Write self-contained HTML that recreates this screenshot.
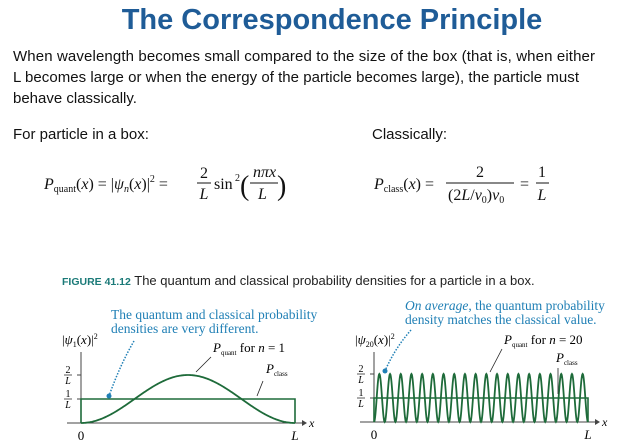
<!DOCTYPE html>
<html><head><meta charset="utf-8"><style>
html,body{margin:0;padding:0;background:#fff;width:640px;height:442px;overflow:hidden}
svg{display:block}
.b{font-family:"Liberation Sans",sans-serif;font-size:15px;fill:#111}
.m{font-family:"Liberation Serif",serif;fill:#111}
.c{font-family:"Liberation Serif",serif;fill:#1f7fb5;font-size:13.5px}
</style></head><body>
<svg id="s" width="640" height="442">
<text x="332" y="29" text-anchor="middle" font-family="Liberation Sans,sans-serif" font-weight="bold" font-size="29" fill="#1f5c97">The Correspondence Principle</text>
<g class="b">
<text x="13" y="61" textLength="582">When wavelength becomes small compared to the size of the box (that is, when either</text>
<text x="13" y="82" textLength="566">L becomes large or when the energy of the particle becomes large), the particle must</text>
<text x="13" y="103">behave classically.</text>
<text x="13" y="139">For particle in a box:</text>
<text x="372" y="139">Classically:</text>
</g>
<g class="m" font-size="16">
<text x="44" y="189" font-style="italic">P<tspan font-size="10" font-style="normal" dy="3">quant</tspan><tspan dy="-3" font-style="normal">(</tspan>x<tspan font-style="normal">)  =  |</tspan>ψ<tspan font-size="10" dy="3">n</tspan><tspan dy="-3" font-style="normal">(</tspan>x<tspan font-style="normal">)|</tspan><tspan font-size="10" dy="-7" font-style="normal">2</tspan><tspan dy="7" font-style="normal"> = </tspan></text>
<text x="204" y="178" text-anchor="middle">2</text><line x1="197" y1="183" x2="211" y2="183" stroke="#111"/><text x="204" y="199" text-anchor="middle" font-style="italic">L</text>
<text x="214" y="189">sin</text><text x="235" y="181" font-size="10">2</text>
<text x="240" y="195" font-size="28" font-weight="100">(</text>
<text x="253" y="177" font-style="italic">nπx</text><line x1="250" y1="183" x2="278" y2="183" stroke="#111"/><text x="258" y="199" font-style="italic">L</text>
<text x="277" y="195" font-size="28" font-weight="100">)</text>
</g>
<g class="m" font-size="16">
<text x="374" y="189" font-style="italic">P<tspan font-size="10" font-style="normal" dy="3">class</tspan><tspan dy="-3" font-style="normal">(</tspan>x<tspan font-style="normal">)  = </tspan></text>
<text x="480" y="177" text-anchor="middle">2</text><line x1="446" y1="183" x2="514" y2="183" stroke="#111"/>
<text x="448" y="200">(2<tspan font-style="italic">L</tspan>/<tspan font-style="italic">v</tspan><tspan font-size="10" dy="3">0</tspan><tspan dy="-3">)</tspan><tspan font-style="italic">v</tspan><tspan font-size="10" dy="3">0</tspan></text>
<text x="520" y="189">=</text>
<text x="542" y="177" text-anchor="middle">1</text><line x1="536" y1="183" x2="549" y2="183" stroke="#111"/><text x="542" y="200" text-anchor="middle" font-style="italic">L</text>
</g>
<text x="62" y="285" font-family="Liberation Sans,sans-serif" font-size="13" fill="#222"><tspan font-weight="bold" fill="#1b7a78" font-size="10.5">FIGURE 41.12</tspan>  The quantum and classical probability densities for a particle in a box.</text>
<g id="charts"></g>
</svg>
<script>
const nValues=[1,20];
const classValue=1; // in units of 1/L
const peakValue=2;  // in units of 1/L
const tickValues=[1,2];
const tickLabels=["1","2"];
const panels=[
 {x0:81,x1:295,y0:423,yTop:352,ylab:"1",notes:["The quantum and classical probability","densities are very different."],nx:111,ny:319,arrow:"M134,341 Q120,365 109,396",qx:213,qy:352,ql:"M211,357 L196,372",cx:266,cy:373,cl:"M263,381 L257,396"},
 {x0:374,x1:588,y0:422,yTop:352,ylab:"20",notes:["On average, the quantum probability","density matches the classical value."],nx:405,ny:310,arrow:"M411,330 Q395,348 385,371",qx:504,qy:344,ql:"M502,349 L490,372",cx:556,cy:362,cl:"M558,368 L558,394"}
];
const NS="http://www.w3.org/2000/svg";
const g=document.getElementById('charts');
function mk(t,a,p){const e=document.createElementNS(NS,t);for(const k in a)e.setAttribute(k,a[k]);(p||g).appendChild(e);return e;}
panels.forEach((P,i)=>{
 const n=nValues[i];
 const sx=v=>P.x0+v*(P.x1-P.x0);
 const sy=v=>P.y0-v*24;
 const grp=mk('g',{});
 
 
 const ax=mk('path',{d:`M${P.x0-14},${P.y0} H${P.x1+7} M${P.x0},${P.y0} V${P.yTop}`,stroke:'#444','stroke-width':1,fill:'none'},grp);
 
 mk('path',{d:`M${P.x1+7},${P.y0-3} L${P.x1+12},${P.y0} L${P.x1+7},${P.y0+3}`,fill:'#444'},grp);
 const xl=mk('text',{x:P.x1+14,y:P.y0+4,'font-family':'Liberation Serif,serif','font-style':'italic','font-size':12},grp);xl.textContent='x';
 tickValues.forEach((t,k)=>{
  mk('line',{x1:P.x0-4,x2:P.x0,y1:sy(t),y2:sy(t),stroke:'#444'},grp);
  const a=mk('text',{x:P.x0-13,y:sy(t)-2,'text-anchor':'middle','font-family':'Liberation Serif,serif','font-size':10},grp);a.textContent=tickLabels[k];
  mk('line',{x1:P.x0-17,x2:P.x0-9,y1:sy(t),y2:sy(t),stroke:'#111','stroke-width':.7},grp);
  const b=mk('text',{x:P.x0-13,y:sy(t)+9,'text-anchor':'middle','font-family':'Liberation Serif,serif','font-style':'italic','font-size':10},grp);b.textContent='L';
 });
 const z=mk('text',{x:P.x0,y:P.y0+17,'text-anchor':'middle','font-family':'Liberation Serif,serif','font-size':13},grp);z.textContent='0';
 const L=mk('text',{x:P.x1,y:P.y0+17,'text-anchor':'middle','font-family':'Liberation Serif,serif','font-style':'italic','font-size':13},grp);L.textContent='L';
 const yl=mk('text',{x:P.x0-19,y:P.yTop-8,'font-family':'Liberation Serif,serif','font-size':13},grp);
 yl.innerHTML=`|<tspan font-style="italic">ψ</tspan><tspan font-size="8" dy="3">${P.ylab}</tspan><tspan dy="-3">(</tspan><tspan font-style="italic">x</tspan>)|<tspan font-size="8" dy="-5">2</tspan>`;
 const cls=mk('path',{d:`M${sx(0)},${P.y0} V${sy(classValue)} H${sx(1)} V${P.y0}`,stroke:'#1e6b3a','stroke-width':1.6,fill:'none'},grp);
 
 let d='';const N=Math.max(200,n*30);
 for(let k=0;k<=N;k++){const u=k/N;const v=peakValue*Math.pow(Math.sin(n*Math.PI*u),2);d+=(k?'L':'M')+sx(u).toFixed(2)+','+sy(v).toFixed(2);}
 const q=mk('path',{d:d,stroke:'#1e6b3a','stroke-width':1.8,fill:'none'},grp);
 
 P.notes.forEach((s,k)=>{const t=mk('text',{x:P.nx,y:P.ny+k*14,class:'c'},grp);
  if(i==1&&k==0){t.innerHTML='<tspan font-style="italic">On average</tspan>, the quantum probability';}else t.textContent=s;
  });
 mk('path',{d:P.arrow,stroke:'#1f7fb5','stroke-width':1.5,'stroke-dasharray':'1.5 1.5',fill:'none'},grp);
 const e=P.arrow.split(' ').pop().split(',').map(Number);
 mk('circle',{cx:e[0],cy:e[1],r:2.5,fill:'#1f7fb5'},grp);
 const qt=mk('text',{x:P.qx,y:P.qy,'font-family':'Liberation Serif,serif','font-size':13},grp);
 qt.innerHTML=`<tspan font-style="italic">P</tspan><tspan font-size="7" dy="3">quant</tspan><tspan dy="-3"> for </tspan><tspan font-style="italic">n</tspan> = ${n}`;
 
 mk('path',{d:P.ql,stroke:'#222','stroke-width':.8},grp);
 const ct=mk('text',{x:P.cx,y:P.cy,'font-family':'Liberation Serif,serif','font-size':13},grp);
 ct.innerHTML=`<tspan font-style="italic">P</tspan><tspan font-size="7" dy="3">class</tspan>`;
 
 mk('path',{d:P.cl,stroke:'#222','stroke-width':.8},grp);
});
</script>
</body></html>
